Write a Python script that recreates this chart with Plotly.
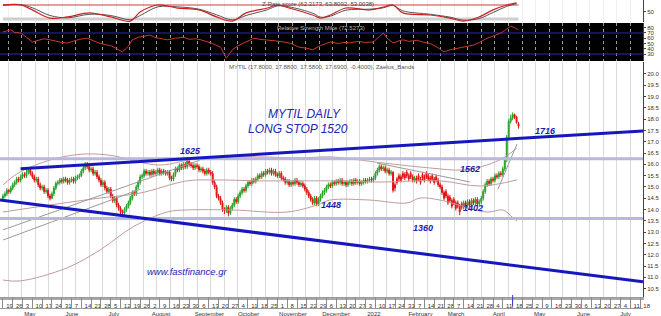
import pandas as pd
import plotly.graph_objects as go

# ---------------- DATA ----------------
opens = [14.5, 14.6, 14.7, 14.85, 14.8, 14.95, 15.1, 15.2, 15.35, 15.3,
         15.45, 15.55, 15.5, 15.65, 15.75, 15.6, 15.45, 15.3, 15.35, 15.1,
         14.95, 15.0, 14.8, 14.85, 14.6, 14.5, 14.7, 14.95, 15.15, 15.2,
         15.3, 15.25, 15.35, 15.3, 15.2, 15.3, 15.35, 15.25, 15.4, 15.45,
         15.5, 15.7, 15.85, 16.0, 15.9, 15.75, 15.8, 15.6, 15.65, 15.45,
         15.3, 15.1, 15.2, 14.95, 14.8, 14.9, 14.6, 14.4, 14.5, 14.2,
         14.05, 13.9, 13.85, 14.0, 14.15, 14.3, 14.5, 14.75, 14.7, 15.0,
         15.2, 15.45, 15.5, 15.7, 15.6, 15.65, 15.55, 15.7, 15.6, 15.65,
         15.75, 15.6, 15.7, 15.65, 15.6, 15.65, 15.4, 15.35, 15.55, 15.8,
         15.75, 15.95, 15.85, 16.0, 15.9, 16.15, 16.0, 15.95, 15.85, 15.95,
         15.9, 15.75, 15.8, 15.7, 15.6, 15.75, 15.65, 15.6, 15.2, 15.0,
         14.6, 14.5, 14.3, 14.0, 13.95, 14.1, 13.85, 14.05, 14.2, 14.45,
         14.35, 14.6, 14.75, 14.9, 14.85, 15.05, 15.2, 15.15, 15.3, 15.25,
         15.35, 15.5, 15.45, 15.6, 15.55, 15.7, 15.65, 15.75, 15.6, 15.7,
         15.55, 15.5, 15.6, 15.4, 15.35, 15.2, 15.25, 15.1, 15.2, 15.15,
         15.3, 15.2, 15.1, 15.15, 15.05, 14.9, 14.75, 14.6, 14.45, 14.3,
         14.5, 14.25, 14.45, 14.6, 14.75, 14.85, 15.0, 15.1, 15.05, 15.2,
         15.15, 15.25, 15.2, 15.3, 15.15, 15.2, 15.1, 15.2, 15.25, 15.15,
         15.3, 15.2, 15.25, 15.15, 15.2, 15.3, 15.25, 15.3, 15.35, 15.3,
         15.4, 15.6, 15.75, 15.9, 15.8, 15.85, 15.7, 15.75, 15.6, 15.65,
         15.1, 15.35, 15.5, 15.45, 15.6, 15.55, 15.65, 15.5, 15.6, 15.45,
         15.3, 15.4, 15.5, 15.35, 15.55, 15.45, 15.6, 15.5, 15.4, 15.5,
         15.35, 15.45, 15.3, 15.1, 15.0, 14.75, 14.8, 14.6, 14.55, 14.4,
         14.45, 14.3, 14.3, 14.15, 14.25, 14.1, 14.3, 14.15, 14.35, 14.2,
         14.4, 14.3, 14.45, 14.25, 14.35, 14.5, 14.8, 15.1, 15.25, 15.15,
         15.35, 15.3, 15.5, 15.45, 15.6, 15.55, 15.8, 16.2, 17.2, 17.9,
         18.05, 18.2, 18.1, 17.80]
highs = [14.7, 14.8, 14.95, 14.9, 15.05, 15.2, 15.3, 15.45, 15.45, 15.55,
         15.65, 15.65, 15.75, 15.85, 15.8, 15.7, 15.55, 15.45, 15.45, 15.2,
         15.1, 15.1, 14.95, 14.95, 14.7, 14.8, 15.05, 15.25, 15.3, 15.4,
         15.4, 15.45, 15.45, 15.4, 15.4, 15.45, 15.45, 15.5, 15.55, 15.6,
         15.8, 15.95, 16.1, 16.1, 16.0, 15.9, 15.9, 15.75, 15.75, 15.55,
         15.4, 15.3, 15.3, 15.05, 15.0, 15.0, 14.7, 14.6, 14.6, 14.3,
         14.15, 14.0, 14.1, 14.25, 14.4, 14.6, 14.85, 14.85, 15.1, 15.3,
         15.55, 15.6, 15.8, 15.8, 15.75, 15.75, 15.8, 15.8, 15.75, 15.85,
         15.85, 15.8, 15.8, 15.75, 15.75, 15.75, 15.5, 15.65, 15.9, 15.9,
         16.05, 16.05, 16.1, 16.1, 16.25, 16.25, 16.1, 16.05, 16.05, 16.05,
         16.0, 15.9, 15.9, 15.8, 15.85, 15.85, 15.75, 15.7, 15.3, 15.1,
         14.7, 14.6, 14.4, 14.1, 14.2, 14.2, 14.15, 14.3, 14.55, 14.55,
         14.7, 14.85, 15.0, 15.0, 15.15, 15.3, 15.3, 15.4, 15.4, 15.45,
         15.6, 15.6, 15.7, 15.7, 15.8, 15.8, 15.85, 15.85, 15.8, 15.8,
         15.65, 15.7, 15.7, 15.5, 15.45, 15.35, 15.35, 15.3, 15.3, 15.4,
         15.4, 15.3, 15.25, 15.25, 15.15, 15.0, 14.85, 14.7, 14.55, 14.6,
         14.6, 14.55, 14.7, 14.85, 14.95, 15.1, 15.2, 15.2, 15.3, 15.3,
         15.35, 15.35, 15.4, 15.4, 15.3, 15.3, 15.3, 15.35, 15.35, 15.4,
         15.4, 15.35, 15.35, 15.3, 15.4, 15.4, 15.4, 15.45, 15.45, 15.5,
         15.7, 15.85, 16.0, 16.0, 15.95, 15.95, 15.85, 15.85, 15.75, 15.7,
         15.2, 15.45, 15.6, 15.55, 15.7, 15.65, 15.75, 15.6, 15.7, 15.55,
         15.5, 15.5, 15.6, 15.45, 15.65, 15.55, 15.7, 15.6, 15.5, 15.6,
         15.45, 15.55, 15.4, 15.2, 15.1, 14.85, 14.9, 14.7, 14.65, 14.5,
         14.55, 14.4, 14.4, 14.25, 14.35, 14.4, 14.4, 14.45, 14.45, 14.5,
         14.5, 14.55, 14.55, 14.45, 14.6, 14.9, 15.2, 15.35, 15.35, 15.45,
         15.45, 15.6, 15.6, 15.7, 15.7, 15.9, 16.3, 17.3, 18.0, 18.2,
         18.3, 18.25, 18.15, 17.88]
lows = [14.4, 14.5, 14.6, 14.7, 14.7, 14.85, 15.0, 15.1, 15.2, 15.2,
        15.35, 15.4, 15.4, 15.55, 15.5, 15.35, 15.2, 15.2, 15.0, 14.85,
        14.85, 14.7, 14.7, 14.5, 14.4, 14.45, 14.6, 14.85, 15.05, 15.1,
        15.15, 15.15, 15.2, 15.1, 15.1, 15.2, 15.15, 15.15, 15.3, 15.35,
        15.45, 15.6, 15.75, 15.8, 15.65, 15.65, 15.5, 15.5, 15.35, 15.2,
        15.0, 15.0, 14.85, 14.7, 14.7, 14.5, 14.3, 14.3, 14.1, 13.95,
        13.8, 13.75, 13.75, 13.9, 14.05, 14.2, 14.4, 14.6, 14.6, 14.9,
        15.1, 15.35, 15.4, 15.5, 15.5, 15.45, 15.45, 15.5, 15.5, 15.55,
        15.5, 15.5, 15.55, 15.5, 15.5, 15.3, 15.25, 15.25, 15.45, 15.65,
        15.65, 15.75, 15.75, 15.8, 15.8, 15.9, 15.85, 15.75, 15.75, 15.8,
        15.65, 15.65, 15.6, 15.5, 15.5, 15.55, 15.5, 15.1, 14.9, 14.5,
        14.4, 14.2, 13.9, 13.8, 13.85, 13.7, 13.75, 13.95, 14.1, 14.25,
        14.25, 14.5, 14.65, 14.75, 14.75, 14.95, 15.05, 15.05, 15.15, 15.15,
        15.25, 15.35, 15.35, 15.45, 15.45, 15.55, 15.55, 15.5, 15.5, 15.45,
        15.4, 15.4, 15.3, 15.25, 15.1, 15.1, 15.0, 15.0, 15.05, 15.05,
        15.1, 15.0, 15.0, 14.95, 14.8, 14.65, 14.5, 14.35, 14.2, 14.2,
        14.15, 14.15, 14.35, 14.5, 14.65, 14.75, 14.9, 14.95, 14.95, 15.05,
        15.05, 15.1, 15.1, 15.05, 15.05, 15.0, 15.0, 15.1, 15.05, 15.05,
        15.1, 15.1, 15.05, 15.05, 15.1, 15.15, 15.15, 15.2, 15.2, 15.2,
        15.3, 15.5, 15.65, 15.7, 15.7, 15.6, 15.6, 15.5, 15.5, 14.75,
        14.8, 15.1, 15.25, 15.2, 15.35, 15.3, 15.4, 15.25, 15.35, 15.2,
        15.2, 15.15, 15.25, 15.1, 15.3, 15.2, 15.35, 15.25, 15.15, 15.25,
        15.1, 15.2, 15.0, 14.9, 14.65, 14.4, 14.5, 14.2, 14.3, 14.05,
        14.2, 13.95, 14.05, 13.75, 14.0, 14.0, 14.05, 14.05, 14.1, 14.1,
        14.2, 14.2, 14.15, 14.15, 14.25, 14.4, 14.7, 15.0, 15.05, 15.05,
        15.2, 15.2, 15.35, 15.35, 15.45, 15.45, 15.7, 16.1, 17.1, 17.8,
        17.95, 18.0, 17.8, 17.58]
closes = [14.6, 14.7, 14.85, 14.8, 14.95, 15.1, 15.2, 15.35, 15.3, 15.45,
          15.55, 15.5, 15.65, 15.75, 15.6, 15.45, 15.3, 15.35, 15.1, 14.95,
          15.0, 14.8, 14.85, 14.6, 14.5, 14.7, 14.95, 15.15, 15.2, 15.3,
          15.25, 15.35, 15.3, 15.2, 15.3, 15.35, 15.25, 15.4, 15.45, 15.5,
          15.7, 15.85, 16.0, 15.9, 15.75, 15.8, 15.6, 15.65, 15.45, 15.3,
          15.1, 15.2, 14.95, 14.8, 14.9, 14.6, 14.4, 14.5, 14.2, 14.05,
          13.9, 13.85, 14.0, 14.15, 14.3, 14.5, 14.75, 14.7, 15.0, 15.2,
          15.45, 15.5, 15.7, 15.6, 15.65, 15.55, 15.7, 15.6, 15.65, 15.75,
          15.6, 15.7, 15.65, 15.6, 15.65, 15.4, 15.35, 15.55, 15.8, 15.75,
          15.95, 15.85, 16.0, 15.9, 16.15, 16.0, 15.95, 15.85, 15.95, 15.9,
          15.75, 15.8, 15.7, 15.6, 15.75, 15.65, 15.6, 15.2, 15.0, 14.6,
          14.5, 14.3, 14.0, 13.95, 14.1, 13.85, 14.05, 14.2, 14.45, 14.35,
          14.6, 14.75, 14.9, 14.85, 15.05, 15.2, 15.15, 15.3, 15.25, 15.35,
          15.5, 15.45, 15.6, 15.55, 15.7, 15.65, 15.75, 15.6, 15.7, 15.55,
          15.5, 15.6, 15.4, 15.35, 15.2, 15.25, 15.1, 15.2, 15.15, 15.3,
          15.2, 15.1, 15.15, 15.05, 14.9, 14.75, 14.6, 14.45, 14.3, 14.5,
          14.25, 14.45, 14.6, 14.75, 14.85, 15.0, 15.1, 15.05, 15.2, 15.15,
          15.25, 15.2, 15.3, 15.15, 15.2, 15.1, 15.2, 15.25, 15.15, 15.3,
          15.2, 15.25, 15.15, 15.2, 15.3, 15.25, 15.3, 15.35, 15.3, 15.4,
          15.6, 15.75, 15.9, 15.8, 15.85, 15.7, 15.75, 15.6, 15.65, 14.85,
          14.95, 15.2, 15.35, 15.3, 15.45, 15.4, 15.5, 15.35, 15.45, 15.3,
          15.4, 15.25, 15.35, 15.2, 15.4, 15.3, 15.45, 15.35, 15.25, 15.35,
          15.2, 15.3, 15.1, 15.0, 14.75, 14.5, 14.6, 14.3, 14.4, 14.15,
          14.3, 14.05, 14.15, 13.9, 14.1, 14.3, 14.15, 14.35, 14.2, 14.4,
          14.3, 14.45, 14.25, 14.35, 14.5, 14.8, 15.1, 15.25, 15.15, 15.35,
          15.3, 15.5, 15.45, 15.6, 15.55, 15.8, 16.2, 17.2, 17.9, 18.05,
          18.2, 18.1, 17.85, 17.69]

START_DATE = "2021-04-19"
AXIS_TRADING_DAYS = 335
X_RANGE = [-1.5, 326.5]
MARKER_DATE = "2022-04-18"

month_names = ["May", "June", "July", "August", "September", "October", "November",
               "December", "2022", "February", "March", "April", "May", "June", "July"]

# indicator bands (trading-day index, price)
band_up_x = [0, 8.7, 24, 36.7, 46.9, 57.1, 67.3, 80.1, 100.5, 131, 151.5, 166.8, 193.9, 217.9, 234.7, 246.9, 255.1, 259.7, 262.2]
band_up_y = [15.09, 15.66, 16.19, 16.42, 16.46, 16.37, 16.15, 15.97, 16.28, 16.33, 16.28, 16.33, 16.06, 15.84, 15.75, 15.97, 16.28, 16.55, 16.73]
band_mid_x = [0, 24, 49.5, 69.9, 93.9, 109.2, 131, 151.5, 166.8, 192.3, 223, 243.4, 262.2]
band_mid_y = [13.89, 14.20, 14.51, 14.73, 15.27, 15.31, 15.27, 15.27, 15.27, 15.22, 15.27, 15.04, 15.31]
band_low_x = [0, 8.7, 32.7, 49.5, 66.3, 83.7, 93.9, 117.3, 144.9, 160.2, 166.8, 187.2, 206.1, 212.8, 223, 246.9, 255.1, 259.7, 262.2]
band_low_y = [10.88, 10.84, 11.42, 12.21, 13.23, 13.89, 13.98, 13.98, 13.89, 14.20, 14.42, 14.42, 14.29, 14.51, 14.42, 13.89, 13.98, 13.67, 13.50]
reg_a_x = [0, 100.5]
reg_a_y = [13.10, 16.19]
reg_b_x = [0, 70]
reg_b_y = [12.65, 14.90]
reg_c_x = [190.8, 238.3]
reg_c_y = [16.06, 15.22]
reg_d_x = [252.5, 262.2]
reg_d_y = [14.90, 16.90]

resistance_level = 16.25
support_level = 13.60
trend_up_x = [9, 326.5]
trend_up_y = [15.81, 17.48]
trend_down_x = [-1.5, 326.5]
trend_down_y = [14.42, 10.80]

stoch_x = [0, 9, 15, 24, 33, 44, 55, 65, 70, 79, 89, 100, 109, 117, 124, 135, 140, 146, 158, 162, 167, 175, 187, 194, 199, 204, 218, 228, 235, 243, 250, 257, 262]
stoch_k = [80, 80, 59, 24, 29, 46, 29, 11, 50, 80, 67, 59, 29, 11, 46, 67, 80, 67, 37, 24, 37, 67, 59, 71, 80, 46, 37, 24, 11, 29, 59, 80, 89]
stoch_d = [78, 82, 68, 35, 25, 40, 35, 17, 35, 72, 72, 62, 38, 16, 35, 60, 76, 72, 45, 28, 32, 58, 62, 68, 78, 55, 40, 28, 15, 22, 48, 74, 86]
stoch_levels = [80, 20]

rs_x = [0, 2, 4, 6, 9, 12, 15, 18, 21, 24, 27, 30, 33, 36, 39, 43, 46, 49, 52, 55, 58, 61, 64, 66, 69, 72, 75, 78,
        81, 84, 88, 92, 95, 98, 101, 104, 107, 111, 114, 117, 120, 124, 128, 131, 135, 139, 143, 147, 151, 155,
        158, 162, 167, 171, 174, 177, 181, 185, 189, 192, 194, 196, 199, 202, 204, 207, 211, 214, 218, 221, 225,
        228, 232, 236, 240, 243, 247, 250, 254, 256, 259, 261, 263]
rs_y = [72, 74, 76, 71, 70, 62, 53, 56, 59, 57, 54, 52, 51, 55, 58, 60, 55, 51, 48, 46, 40, 34, 45, 57, 62, 64, 66, 61,
        59, 57, 60, 62, 58, 59, 57, 54, 50, 43, 22, 38, 46, 53, 60, 58, 57, 55, 53, 50, 43, 41,
        38, 46, 53, 50, 52, 51, 54, 52, 53, 63, 70, 60, 51, 55, 57, 54, 56, 53, 50, 44, 34,
        38, 41, 44, 47, 52, 60, 64, 70, 75, 83, 80, 76]
rs_levels = [70, 30]

# ---------------- derived axis positions ----------------
dates = pd.bdate_range(START_DATE, periods=AXIS_TRADING_DAYS)
idx = list(range(len(closes)))
monday_idx = [i for i, d in enumerate(dates) if d.weekday() == 0 and i <= X_RANGE[1]]
monday_txt = [str(dates[i].day) for i in monday_idx]
month_idx = [i for i in range(1, len(dates)) if dates[i].month != dates[i - 1].month and i <= X_RANGE[1]]
marker_i = list(dates).index(pd.Timestamp(MARKER_DATE))

W, H = 661, 316
ML, MR, MT, MB = 0, 18, 0, 8
PW, PH = W - ML - MR, H - MT - MB


def dom(top_px, bot_px):
    return [(PH - bot_px) / PH, (PH - top_px) / PH]


BLUE = "#1717bf"
LAV = "#b7b7df"
ROSY = "#c49a9a"
GRAYL = "#9a9a9a"
TXTF = "Liberation Sans"

fig = go.Figure()

# stochastic panel
for lv, col, wd in zip(stoch_levels, ["#d23a3a", "#cfcfcf"], [1.2, 3]):
    fig.add_trace(go.Scatter(x=[idx[0], idx[-1]], y=[lv, lv], mode="lines",
                             line=dict(color=col, width=wd), xaxis="x", yaxis="y", hoverinfo="skip"))
fig.add_trace(go.Scatter(x=stoch_x, y=stoch_d, mode="lines", line=dict(color="#555555", width=1, shape="spline"),
                         xaxis="x", yaxis="y"))
fig.add_trace(go.Scatter(x=stoch_x, y=stoch_k, mode="lines", line=dict(color="#cc2020", width=1.2, shape="spline"),
                         xaxis="x", yaxis="y"))

# relative strength panel
for lv in rs_levels:
    fig.add_trace(go.Scatter(x=X_RANGE, y=[lv, lv], mode="lines", line=dict(color="#2a2ab0", width=1),
                             xaxis="x2", yaxis="y2", hoverinfo="skip"))
fig.add_trace(go.Scatter(x=rs_x, y=rs_y, mode="lines", line=dict(color="#c83a2a", width=1),
                         xaxis="x2", yaxis="y2"))

# main panel
for bx, by in [(band_up_x, band_up_y), (band_mid_x, band_mid_y), (band_low_x, band_low_y)]:
    fig.add_trace(go.Scatter(x=bx, y=by, mode="lines", line=dict(color=ROSY, width=1, shape="spline"),
                             xaxis="x3", yaxis="y3"))
for rx, ry in [(reg_a_x, reg_a_y), (reg_b_x, reg_b_y), (reg_c_x, reg_c_y), (reg_d_x, reg_d_y)]:
    fig.add_trace(go.Scatter(x=rx, y=ry, mode="lines", line=dict(color=GRAYL, width=1),
                             xaxis="x3", yaxis="y3"))
for lv in [resistance_level, support_level]:
    fig.add_trace(go.Scatter(x=X_RANGE, y=[lv, lv], mode="lines", line=dict(color=LAV, width=3),
                             xaxis="x3", yaxis="y3"))

fig.add_trace(go.Candlestick(
    x=idx, open=opens, high=highs, low=lows, close=closes,
    increasing=dict(line=dict(color="#27a127", width=1), fillcolor="#27a127"),
    decreasing=dict(line=dict(color="#e01414", width=1), fillcolor="#e01414"),
    xaxis="x3", yaxis="y3"))

for tx, ty in [(trend_up_x, trend_up_y), (trend_down_x, trend_down_y)]:
    fig.add_trace(go.Scatter(x=tx, y=ty, mode="lines", line=dict(color=BLUE, width=3),
                             xaxis="x3", yaxis="y3"))

# date strip
fig.add_trace(go.Scatter(x=[], y=[], xaxis="x4", yaxis="y4"))

tickfont = dict(family=TXTF, size=6, color="#333333")
common_x = dict(range=X_RANGE, zeroline=False, automargin=False, fixedrange=True)
common_y = dict(side="right", zeroline=False, showgrid=False, automargin=False, showline=True,
                linecolor="#444444", linewidth=1, ticks="outside", ticklen=2, tickcolor="#444444",
                tickfont=tickfont)

fig.update_layout(
    width=W, height=H, margin=dict(l=ML, r=MR, t=MT, b=MB),
    paper_bgcolor="white", plot_bgcolor="white", showlegend=False,
    xaxis=dict(domain=[0, 1], anchor="y", showticklabels=False, showgrid=True, gridcolor="#efefef",
               tick0=2.6, dtick=6.9, **common_x),
    yaxis=dict(domain=dom(0, 22), range=[7.1, 101.4], tickvals=[50], **common_y),
    xaxis2=dict(domain=[0, 1], anchor="y2", showticklabels=False, showgrid=True, gridcolor="#9a9a9a",
                griddash="dot", tick0=2.6, dtick=6.9, **common_x),
    yaxis2=dict(domain=dom(23, 61), range=[16.7, 89], tickvals=[30, 40, 50, 60, 70, 80], **common_y),
    xaxis3=dict(domain=[0, 1], anchor="y3", tickmode="array", tickvals=[m + 0.9 for m in monday_idx],
                ticktext=monday_txt, ticklabelposition="outside right", ticks="", showgrid=False,
                tickangle=0, ticklabelstandoff=1,
                showline=True, linecolor="#a9a9a9", linewidth=3, tickfont=tickfont,
                rangeslider=dict(visible=False),
                minor=dict(tickmode="linear", tick0=2.6, dtick=6.9, showgrid=True, gridcolor="#dadada",
                           ticks=""), **common_x),
    yaxis3=dict(domain=dom(62, 297), range=[10.13, 20.53],
                tickvals=[10 + 0.5 * k for k in range(21)],
                ticktext=["%.1f" % (10 + 0.5 * k) for k in range(21)], **common_y),
    xaxis4=dict(domain=[0, 1], anchor="y4", tickmode="array", tickvals=[m + 0.6 for m in month_idx],
                ticktext=month_names[:len(month_idx)], ticklabelposition="outside right", ticks="",
                tickangle=0, ticklabelstandoff=0,
                showgrid=False, showline=True, mirror=True, linecolor="#9a9a9a", tickfont=tickfont,
                minor=dict(tickmode="array", tickvals=monday_idx, showgrid=True, gridcolor="#8a8a8a",
                           gridwidth=1, ticks=""), **common_x),
    yaxis4=dict(domain=dom(298, 308), range=[0, 1], showticklabels=False, showgrid=False,
                zeroline=False, automargin=False, fixedrange=True),
)

# black background of relative strength panel
fig.add_shape(type="rect", xref="x2 domain", yref="y2 domain", x0=0, x1=1, y0=0, y1=1,
              fillcolor="black", line=dict(width=0), layer="below")
# current date marker on the date strip
fig.add_shape(type="line", xref="x4", yref="y4 domain", x0=marker_i, x1=marker_i, y0=0.2, y1=1.3,
              line=dict(color="#3a3ad0", width=1))


def ann(text, px, py, size, color, family=TXTF, weight="normal", style="normal"):
    fig.add_annotation(text=text, x=(px - ML) / PW, y=(PH - (py - MT)) / PH, xref="paper", yref="paper",
                       showarrow=False, xanchor="center", yanchor="middle",
                       font=dict(size=size, color=color, family=family, weight=weight, style=style))


ann("Z-Rate score (62.2173, 63.8092, 53.0038)", 318, 4, 6, "#444444")
ann("Relative Strength Mike (72.5273)", 321, 28, 6, "#bbbbbb")
ann("MYTIL (17.8000, 17.8800, 17.5800, 17.6900, -0.4000), Zaelus_Bands", 321, 67, 6, "#555555")
ann("MYTIL DAILY", 304, 114, 12, "#2424b4", style="italic")
ann("LONG STOP 1520", 298, 129, 12, "#2424b4", style="italic")
for t, px, py in [("1625", 190, 151), ("1716", 545, 131), ("1562", 470, 169), ("1448", 331, 205),
                  ("1402", 473, 208), ("1360", 423, 228)]:
    ann(t, px, py, 9, "#1c1cae", weight="bold", style="italic")
ann("www.fastfinance.gr", 187, 271, 9.5, "#2424b4", style="italic")

fig.write_html("out.html")
